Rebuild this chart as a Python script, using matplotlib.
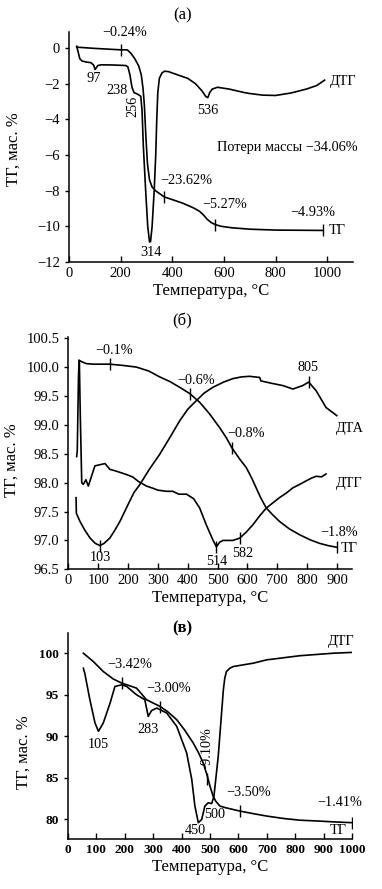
import matplotlib
matplotlib.use("Agg")
import matplotlib.pyplot as plt
from matplotlib.ticker import FormatStrFormatter, MultipleLocator

plt.rcParams['font.family'] = ['Liberation Serif', 'DejaVu Serif']
plt.rcParams['font.size'] = 10.3
plt.rcParams['axes.linewidth'] = 1.1

# ---- панель (а) ----
a_tg_t = [30, 100, 200, 226, 240, 255, 270, 280, 287, 292, 298, 304, 312, 322, 335, 369,
          400, 440, 480, 505, 520, 535, 550, 566, 590, 630, 700, 800, 983]
a_tg_v = [0.05, -0.02, -0.1, -0.1, -0.3, -0.6, -1.0, -1.5, -2.3, -3.2, -5.0, -6.5, -7.4, -7.8,
          -8.0, -8.35, -8.5, -8.7, -8.95, -9.15, -9.35, -9.6, -9.78, -9.9, -10.0, -10.08,
          -10.16, -10.21, -10.23]
a_dtg_t = [30, 35, 42, 50, 65, 85, 95, 101, 106, 112, 125, 170, 220, 228, 236, 244, 252, 265,
           278, 283, 288, 297, 305, 312, 316, 322, 330, 336, 340, 344, 350, 360, 370, 385, 420,
           460, 490, 515, 530, 538, 545, 555, 575, 620, 680, 700, 750, 800, 860, 920, 960, 990]
a_dtg_v = [0.1, -0.2, -0.6, -0.72, -0.78, -0.82, -0.95, -1.2, -1.1, -0.98, -0.94, -0.95, -0.98,
           -1.05, -1.5, -2.2, -2.5, -2.58, -2.7, -3.5, -5.5, -8.0, -10.0, -10.88, -10.85, -10.0,
           -8.0, -6.0, -4.0, -2.5, -1.7, -1.4, -1.3, -1.32, -1.5, -1.7, -2.0, -2.4, -2.72, -2.78,
           -2.5, -2.3, -2.2, -2.3, -2.5, -2.55, -2.64, -2.66, -2.52, -2.3, -2.1, -1.8]
a_mark_t = [200, 369, 566, 983]
a_mark_v = [-0.1, -8.35, -9.9, -10.23]

# ---- панель (б) ----
b_tg_t = [28, 30, 34, 36, 42, 60, 84, 139, 180, 228, 270, 306, 340, 373, 407, 440, 473, 507,
          530, 548, 575, 596, 615, 629, 645, 663, 685, 707, 740, 774, 810, 841, 870, 900]
b_tg_v = [98.45, 98.55, 99.8, 100.12, 100.1, 100.06, 100.05, 100.05, 100.03, 100.0, 99.93,
          99.83, 99.75, 99.65, 99.54, 99.39, 99.19, 98.95, 98.77, 98.6, 98.4, 98.26, 98.07,
          97.91, 97.73, 97.56, 97.44, 97.33, 97.2, 97.1, 97.01, 96.95, 96.91, 96.88]
b_dta_t = [26, 27, 39, 55, 73, 90, 106, 120, 139, 155, 173, 200, 220, 240, 270, 306, 340, 373,
           400, 429, 455, 484, 520, 551, 580, 607, 641, 645, 680, 718, 752, 785, 805, 830, 863,
           899]
b_dta_v = [97.74, 97.47, 97.33, 97.18, 97.04, 96.95, 96.91, 96.95, 97.04, 97.17, 97.33, 97.62,
           97.83, 97.97, 98.22, 98.49, 98.78, 99.07, 99.27, 99.42, 99.55, 99.65, 99.74, 99.8,
           99.83, 99.84, 99.82, 99.76, 99.72, 99.68, 99.62, 99.68, 99.74, 99.59, 99.3, 99.16]
b_dtg_t = [37, 40, 45, 50, 59, 67, 89, 123, 139, 160, 195, 215, 235, 262, 285, 300, 329, 350,
           370, 396, 420, 440, 462, 484, 496, 507, 518, 551, 574, 595, 618, 640, 663, 685, 707,
           730, 752, 775, 796, 815, 830, 848, 863]
b_dtg_v = [100.1, 99.2, 98.0, 97.97, 98.05, 97.94, 98.29, 98.33, 98.23, 98.2, 98.14, 98.1,
           98.02, 97.94, 97.9, 97.87, 97.85, 97.85, 97.8, 97.8, 97.72, 97.56, 97.27, 97.01,
           96.89, 96.97, 97.0, 97.0, 97.04, 97.14, 97.27, 97.42, 97.56, 97.65, 97.74, 97.82,
           97.91, 97.97, 98.03, 98.08, 98.11, 98.1, 98.15]
b_mark_t = [139, 407, 548, 900, 805, 106, 496, 574]
b_mark_v = [100.05, 99.54, 98.6, 96.88, 99.74, 96.91, 96.89, 97.04]

# ---- панель (в) ----
c_tg_t = [55, 90, 125, 160, 190, 242, 277, 324, 350, 383, 410, 441, 460, 476, 490, 500, 511,
          520, 535, 555, 580, 605, 650, 699, 760, 816, 880, 933, 1000]
c_tg_v = [100.0, 99.0, 97.8, 96.9, 96.4, 95.8, 94.4, 93.6, 93.0, 92.0, 90.8, 89.2, 88.0, 86.8,
          85.3, 84.0, 82.8, 82.2, 81.6, 81.4, 81.2, 81.0, 80.7, 80.4, 80.1, 79.9, 79.8, 79.7,
          79.6]
c_dtg_t = [55, 60, 78, 96, 108, 125, 149, 166, 190, 207, 242, 271, 283, 295, 313, 348, 383,
           418, 436, 447, 459, 471, 482, 494, 506, 514, 529, 547, 552, 558, 570, 582, 652, 699,
           816, 933, 1000]
c_dtg_v = [98.2, 97.6, 94.4, 91.6, 90.6, 91.6, 94.0, 96.0, 96.2, 96.0, 95.0, 94.4, 92.4, 93.1,
           93.4, 92.8, 91.2, 88.0, 84.8, 81.6, 79.6, 80.0, 81.6, 82.0, 81.9, 82.8, 87.6, 95.6,
           97.0, 97.8, 98.2, 98.4, 98.8, 99.2, 99.7, 100.0, 100.1]
c_mark_t = [190, 324, 488, 605, 1000]
c_mark_v = [96.4, 93.5, 84.9, 81.0, 79.6]

fig = plt.figure(figsize=(3.82, 8.89), dpi=100)
ax1 = fig.add_axes([0.1806, 0.7053, 0.7434, 0.2587])
ax2 = fig.add_axes([0.1788, 0.3596, 0.7427, 0.2613])
ax3 = fig.add_axes([0.1772, 0.0559, 0.7450, 0.2324])

lw = 1.2
for ax in (ax1, ax2, ax3):
    ax.spines['top'].set_visible(False)
    ax.spines['right'].set_visible(False)
    ax.tick_params(axis='x', direction='in', length=4, width=1, labelsize=10.5)
    ax.tick_params(axis='y', direction='out', length=3, width=1, labelsize=10.5)
    ax.set_xlabel("Температура, °C", fontsize=12)
    ax.set_ylabel("ТГ, мас. %", fontsize=12)

# (а)
ax1.plot(a_tg_t, a_tg_v, color='black', lw=lw)
ax1.plot(a_dtg_t, a_dtg_v, color='black', lw=lw)
ax1.plot(a_mark_t, a_mark_v, ls='none', marker='|', ms=8, mew=1, color='black')
ax1.set_xlim(0, 1100)
ax1.set_ylim(-12, 0.9)
ax1.set_xticks(range(0, 1001, 200))
ax1.set_yticks(range(-12, 1, 2))
ax1.text(214, 0.85, "−0.24%", ha='center', va='center')
ax1.text(97, -1.7, "97", ha='center', va='center')
ax1.text(185, -2.36, "238", ha='center', va='center')
ax1.text(246, -3.26, "256", ha='center', va='center', rotation=90)
ax1.text(537, -3.5, "536", ha='center', va='center')
ax1.text(317, -11.45, "314", ha='center', va='center')
ax1.text(453, -7.43, "−23.62%", ha='center', va='center')
ax1.text(601, -8.8, "−5.27%", ha='center', va='center')
ax1.text(944, -9.2, "−4.93%", ha='center', va='center')
ax1.text(1005, -10.23, "ТГ", ha='left', va='center')
ax1.text(1010, -1.9, "ДТГ", ha='left', va='center')
ax1.text(844, -5.56, "Потери массы −34.06%", ha='center', va='center')
ax1.yaxis.set_label_coords(-0.165, 0.49)
ax1.xaxis.labelpad = 2

# (б)
ax2.plot(b_tg_t, b_tg_v, color='black', lw=lw)
ax2.plot(b_dta_t, b_dta_v, color='black', lw=lw)
ax2.plot(b_dtg_t, b_dtg_v, color='black', lw=lw)
ax2.plot(b_mark_t, b_mark_v, ls='none', marker='|', ms=8, mew=1, color='black')
ax2.set_xlim(0, 950)
ax2.set_ylim(96.5, 100.52)
ax2.set_xticks(range(0, 901, 100))
ax2.yaxis.set_major_locator(MultipleLocator(0.5))
ax2.yaxis.set_major_formatter(FormatStrFormatter('%.1f'))
ax2.text(154, 100.28, "−0.1%", ha='center', va='center')
ax2.text(429, 99.76, "−0.6%", ha='center', va='center')
ax2.text(596, 98.85, "−0.8%", ha='center', va='center')
ax2.text(905, 97.14, "−1.8%", ha='center', va='center')
ax2.text(803, 100.0, "805", ha='center', va='center')
ax2.text(106, 96.7, "103", ha='center', va='center')
ax2.text(496, 96.63, "514", ha='center', va='center')
ax2.text(583, 96.78, "582", ha='center', va='center')
ax2.text(912, 96.86, "ТГ", ha='left', va='center')
ax2.text(895, 98.94, "ДТА", ha='left', va='center')
ax2.text(895, 97.98, "ДТГ", ha='left', va='center')
ax2.yaxis.set_label_coords(-0.17, 0.47)
ax2.xaxis.labelpad = 2

# (в)
ax3.plot(c_tg_t, c_tg_v, color='black', lw=lw)
ax3.plot(c_dtg_t, c_dtg_v, color='black', lw=lw)
ax3.plot(c_mark_t, c_mark_v, ls='none', marker='|', ms=9, mew=1, color='black')
ax3.set_xlim(0, 1000)
ax3.set_ylim(77.6, 102.47)
ax3.set_xticks(range(0, 1001, 100))
ax3.set_yticks(range(80, 101, 5))
for lab in ax3.get_xticklabels() + ax3.get_yticklabels():
    lab.set_fontweight('bold')
    lab.set_fontsize(9.5)
ax3.text(219, 98.6, "−3.42%", ha='center', va='center')
ax3.text(353, 95.8, "−3.00%", ha='center', va='center')
ax3.text(108, 89.0, "105", ha='center', va='center')
ax3.text(283, 90.8, "283", ha='center', va='center')
ax3.text(488, 88.4, "−9.10%", ha='center', va='center', rotation=90)
ax3.text(447, 78.6, "450", ha='center', va='center')
ax3.text(517, 80.6, "500", ha='center', va='center')
ax3.text(634, 83.2, "−3.50%", ha='center', va='center')
ax3.text(956, 82.0, "−1.41%", ha='center', va='center')
ax3.text(950, 78.7, "ТГ", ha='center', va='center')
ax3.text(962, 101.4, "ДТГ", ha='center', va='center')
ax3.yaxis.set_label_coords(-0.125, 0.42)
ax3.xaxis.labelpad = 2

fig.text(0.478, 1 - 15 / 889, "(а)", ha='center', va='center', fontsize=12)
fig.text(0.478, 1 - 321 / 889, "(б)", ha='center', va='center', fontsize=12)
fig.text(0.478, 1 - 628 / 889, "(в)", ha='center', va='center', fontsize=12, fontweight='bold')

fig.savefig("out.png", dpi=100)
